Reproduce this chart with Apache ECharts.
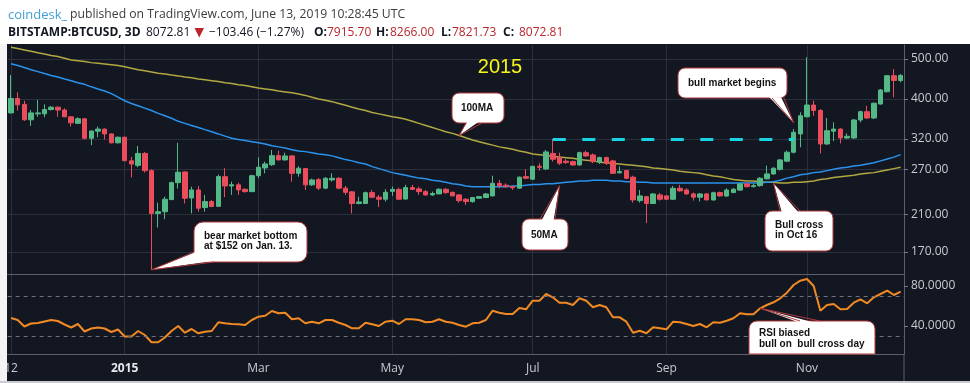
<!DOCTYPE html>
<html><head><meta charset="utf-8">
<script src="https://cdn.jsdelivr.net/npm/echarts@6/dist/echarts.min.js"></script>
<style>html,body{margin:0;padding:0;background:#fff;overflow:hidden}#c{width:970px;height:383px}</style>
</head><body><div id="c"></div>
<script>
// ---------------- DATA (BITSTAMP:BTCUSD, 3D candles) ----------------
const startDate = '2014-11-12';   // first candle
const stepDays = 3;
const opens = [370,401,388,356,368,368,377,382,376,362,349,358,321,334,338,329,313,323,283,276,295,268,211,213,228,250.6,266,230,240.6,218,225.4,219.5,259,246,247.5,241.5,238.3,260.5,272,277,291.4,284.5,291,264,271,247.5,255,243,254.4,256.8,243,238,223,223,237,231,228.4,238.7,241.3,228.6,243.7,242,238.3,234,235.3,241.5,237.4,234,228.4,225.4,229.7,230.6,232.7,249.6,247,245,243,259.2,255.4,274.5,270.5,295,288.5,282.5,281.8,276.6,296.3,292.5,281,288.2,282.9,264.7,268,258.4,226.6,231.7,223,234,232.7,228.4,242.8,240.6,235.3,231,235.3,227.5,237,232.5,237,240.4,248.8,245,246.4,256,263,270,282.5,297,329,362,386.6,375,311,334,338,321.6,321.6,355.6,372.5,359.6,388.8,416.5,455.4,443.5];
const closes = [401,387,356,370,370,377,382,376,362,350,358,321,334.5,338,329,313,323,283.4,278,295,268,211,213,228.4,250.6,265.6,229.7,240.6,217.2,225.4,219.3,259.2,246,247.7,240.6,238.3,260.5,273.1,278.2,291.4,284.5,290.9,264,271.6,247.5,254.4,243,256.8,256.8,243,237.4,223,225,236.9,231,228.4,237.4,241.3,228.4,243.7,241.3,238.3,234,235.8,241.5,237,232.7,226.6,225.4,230.6,231.7,235.2,249.6,246.4,245,243.5,258.4,256.8,274.5,273,297.5,285.6,279.3,280.5,276.6,296.3,290.9,281.8,288.2,279.3,264,266.6,256.8,227.5,232.7,223,235.2,228.4,228.4,242.8,239.3,235.3,231,235.2,227.5,236.9,232.7,240.4,241.5,248.8,245,246.4,256.8,263.1,271.6,284.5,297,332,364.2,386.6,375,311,335,338,321.6,324.7,355.6,372.5,359.6,390.5,420.5,455.4,443.5,456.17];
const highs = [457,415,396,376,398,388,384.5,383.5,379.5,363,361,359,335,343,339,330,324,324,289.5,307.6,297.5,270,224,231.7,252,313,267,245,246,234,227.5,262,271.6,252,250.6,242.5,262,288.8,281.8,300.8,299.7,296.3,292,274.5,272,256.3,257,258.4,264,258.4,246,239,231.7,238.3,240.6,234,241.5,245,243.7,247.5,247.5,245,240.6,238.3,242.8,242.8,238.3,235,229.7,231.1,232.7,236.5,260.5,254.4,249.6,246,259.2,270,275.1,279.3,300.8,320,296.3,285.6,283.4,298,299.7,295,289.8,289.8,284.5,274.5,269,260.5,240.4,232.7,236.5,236.5,233.5,246,247.5,242.8,237,236.5,236.5,238.3,238.3,242.8,243.3,249.7,249.7,248.8,258.4,275.6,273.1,286.1,299.7,338,371.3,505,396,378,359.6,351,339.4,330,357.6,374.5,385,392.5,422.8,457.4,472.6,459.8];
const lows = [369,375,354,344,362,361,375,362,361,343,348,319,309,323,319,312,312,282,258,273,265,154,195,204.3,227,242.4,223,211,213,213,218.5,219,231,234,234,237,237.6,256.8,264,275,284,283.5,252,259,240.4,246,240.4,241.5,252,241.5,234,211,222,222.5,229.7,218.6,225.4,232.7,228,228,240.4,234,233,232.7,235,235.3,232.5,224,221.3,224,229,229.7,232,242.8,243.7,240.6,242,255.4,254.4,268,269,281.8,276.6,278.2,275.5,275.5,289.5,279.3,278.2,276.6,263,264,255.4,224,224,199.8,222.5,226.6,227.5,227.5,238.3,234,226.6,225.4,227,226.6,231.7,231.7,236.5,239.5,244,244,245,255,262,268,281,295,305.3,361,364,295,309.5,316,312,320,320,351,357.6,357.6,387.5,415,403.7,439];
const ma50 = [487,482,477,471,466,461,456,452,447,443,438,434,428,423,418,412,404,396,390,385,380,375,369,364,359,353,349,345,341,337,333,329,325,321,319,317,315,313,311,308,306,304,301,299,298,296,294,293,291,288,285,283,280,278,274,271,268,265,263,261,259,257,256,254,253,251,249,248,246,245,245,245,245,245,245,246,246,247,248,248,249,249,250,251,252,253,253,254,254,254,253,253,252,252,251,251,250,250,250,250,250,250,250,250,250,250,250,250,250,250,250,250,250,251,252,254,257,259,262,263,265,266,268,270,272,273,275,276,278,280,283,286,289,293];
const ma100 = [534,530,526,522,518,514,510,507,502,497,495,493,490,488,486,484,482,479,475,471,468,465,462,460,457,455,452,450,447,445,443,441,438,436,433,431,428,425,423,421,418,416,414,411,408,404,400,397,394,390,386,382,378,375,371,368,365,362,360,357,353,349,345,341,337,333,330,326,322,318,315,312,309,306,304,302,299,297,294,293,292,290,289,288,287,285,284,283,281,280,279,278,277,276,275,274,272,271,270,269,267,266,265,264,262,260,259,257,255,254,253,253,252,251,251,250,250,251,251,252,253,255,256,258,259,260,261,263,264,265,267,269,271,273];
const rsi = [48,46,39.5,42.5,43,44.5,46,45,41.5,38.5,42,34.5,37.5,38.5,37.5,34,36.5,29.5,29.5,35,31,23.7,23.7,28.5,35,40,33.3,37,32.7,34.3,35,43.7,42.7,42,41.7,41,46,49.3,50.3,55,52.7,53.3,46.7,47.7,42.7,44.3,42.7,46,46,43.3,41,37.7,37.7,43.3,41.7,40,44.3,45.3,42,46.7,46.7,46,43.7,44.3,46.7,44.3,43.3,41,39.3,42.7,43.3,46,55.3,53.3,52,52,58,56.7,65.3,65.3,72,68.7,63.3,63.3,61,67.7,65.3,58.7,61,58.7,48.7,48.7,44.3,33.3,35.3,32.7,38.7,37.7,36.7,44.3,43.7,42,40,42,38.7,43.7,43.3,45.3,47.7,52.7,51.7,51.7,57.7,61,63.7,67.7,73.3,81,85.3,87,80,55.3,61,62,56.7,57,63.3,66.7,62.7,68.7,72,75.3,71,74.3];
const tickDates = ['2014-11-12','2015-01-02','2015-03-03','2015-05-02','2015-07-04','2015-09-02','2015-11-04'];
const tickTexts = ['12','2015','Mar','May','Jul','Sep','Nov'];
const priceTicks = [170,210,270,320,400,500];
const rsiTicks = [40,80];
const rsiBands = [70,30];
const lastPrice = 456.17;
const resistance = 320;
const resistanceFrom = 81, resistanceTo = 117;

// ---------------- BUILD ----------------
const categories = [];
const t0 = Date.parse(startDate + 'T00:00:00Z');
for (let i = 0; i < opens.length; i++) {
  categories.push(new Date(t0 + i * stepDays * 864e5).toISOString().slice(0, 10));
}
const candles = opens.map((o, i) => [o, closes[i], lows[i], highs[i]]);
const isTick = (idx, val) => tickDates.indexOf(val) >= 0;
const fmtTick = (val) => {
  const k = tickDates.indexOf(val);
  if (k < 0) return '';
  const t = tickTexts[k];
  return /^\d{4}$/.test(t) ? '{y|' + t + '}' : t;
};
const FONT = "'Open Sans', 'Noto Sans', sans-serif";
const GRID = '#2c303c';
const AXIS = '#5d606b';
const GREEN = '#53b987', RED = '#eb4d5c';

const chart = echarts.init(document.getElementById('c'), null, {renderer: 'canvas', width: 970, height: 383});
const option = {
  backgroundColor: '#131722',
  animation: false,
  grid: [
    {left: 7.66, top: 45, width: 896.3, height: 229},
    {left: 7.66, top: 275, width: 896.3, height: 79}
  ],
  xAxis: [
    {type: 'category', gridIndex: 0, data: categories, boundaryGap: true,
     axisLine: {show: true, lineStyle: {color: AXIS}}, axisTick: {show: false}, axisLabel: {show: false},
     splitLine: {show: true, interval: isTick, alignWithLabel: true, lineStyle: {color: GRID}}},
    {type: 'category', gridIndex: 1, data: categories, boundaryGap: true,
     axisLine: {show: true, lineStyle: {color: AXIS}}, axisTick: {show: false},
     axisLabel: {show: true, interval: isTick, formatter: fmtTick, color: '#c8cad0', fontSize: 12, fontFamily: FONT, margin: 9,
       rich: {y: {fontWeight: 'bold', color: '#e6e8ee', fontSize: 12, fontFamily: FONT}}},
     splitLine: {show: true, interval: isTick, alignWithLabel: true, lineStyle: {color: GRID}}}
  ],
  yAxis: [
    {type: 'log', logBase: 10, gridIndex: 0, position: 'right', min: 150.4, max: 540.7,
     axisLine: {show: true, lineStyle: {color: AXIS}},
     axisTick: {show: true, customValues: priceTicks, length: 4, lineStyle: {color: '#787b86'}},
     axisLabel: {show: true, customValues: priceTicks, formatter: v => Number(v).toFixed(2), color: '#c8cad0', fontSize: 12, fontFamily: FONT, margin: 7},
     splitLine: {show: true, lineStyle: {color: GRID}}},
    {type: 'value', gridIndex: 1, position: 'right', min: 12, max: 91,
     axisLine: {show: true, lineStyle: {color: AXIS}},
     axisTick: {show: true, customValues: rsiTicks, length: 4, lineStyle: {color: '#787b86'}},
     axisLabel: {show: true, customValues: rsiTicks, formatter: v => Number(v).toFixed(4), color: '#c8cad0', fontSize: 12, fontFamily: FONT, margin: 7},
     splitLine: {show: false}}
  ],
  series: [
    {type: 'candlestick', name: 'BTCUSD', xAxisIndex: 0, yAxisIndex: 0, data: candles, barWidth: 5, clip: false,
     itemStyle: {color: GREEN, color0: RED, borderColor: GREEN, borderColor0: RED, borderWidth: 1},
     markLine: {silent: true, symbol: ['none', 'none'], animation: false,
       data: [
         [{coord: [resistanceFrom, resistance], lineStyle: {color: '#19d5e3', width: 3, type: [13, 16.5]}, label: {show: false}},
          {coord: [resistanceTo, resistance]}],
         {yAxis: lastPrice, lineStyle: {opacity: 0}, label: {show: true, position: 'end', distance: 1, formatter: lastPrice.toFixed(2),
           backgroundColor: GREEN, color: '#fff', fontSize: 12, fontFamily: FONT, padding: [3, 8, 2, 6]}}
       ]}},
    {type: 'line', name: '100MA', xAxisIndex: 0, yAxisIndex: 0, data: ma100, symbol: 'none', lineStyle: {color: '#b2a843', width: 1.5}, z: 1},
    {type: 'line', name: '50MA', xAxisIndex: 0, yAxisIndex: 0, data: ma50, symbol: 'none', lineStyle: {color: '#2a93ee', width: 1.5}, z: 1},
    {type: 'line', name: 'RSI', xAxisIndex: 1, yAxisIndex: 1, data: rsi, symbol: 'none', lineStyle: {color: '#f28a24', width: 2},
     markLine: {silent: true, symbol: ['none', 'none'], label: {show: false}, lineStyle: {color: '#6f727d', type: [4, 4], width: 1},
       data: rsiBands.map(v => ({yAxis: v}))}}
  ]
};
chart.setOption(option);

// ---------------- ANNOTATIONS ----------------
const px = (i, v) => chart.convertToPixel({xAxisIndex: 0, yAxisIndex: 0}, [i, v]);
const pxR = (i, v) => chart.convertToPixel({xAxisIndex: 1, yAxisIndex: 1}, [i, v]);
const BORDER = '#b0393b';
const TFONT = 'bold 10px "Liberation Sans", Arial, sans-serif';
function callout(x, y, w, h, tip, b1, b2, lines, tx, ty, lh, r) {
  const cx = x + w / 2, cy = y + h / 2;
  const inward = (p) => { const dx = cx - p[0], dy = cy - p[1], d = Math.hypot(dx, dy); return [p[0] + dx / d * 3, p[1] + dy / d * 3]; };
  const els = [
    {type: 'rect', shape: {x: x, y: y, width: w, height: h, r: r || 7}, style: {fill: '#fff', stroke: BORDER, lineWidth: 1}, z: 100},
    {type: 'polygon', shape: {points: [inward(b1), tip, inward(b2)]}, style: {fill: '#fff'}, z: 101},
    {type: 'polyline', shape: {points: [b1, tip, b2]}, style: {stroke: BORDER, fill: null, lineWidth: 1}, z: 102}
  ];
  lines.forEach((t, k) => els.push({type: 'text', z: 103, style: {text: t, x: tx, y: ty + k * lh, font: TFONT, fill: '#111', textAlign: 'left', verticalAlign: 'middle', textVerticalAlign: 'middle'}}));
  return els;
}
const tipBear = px(21, lows[21]);
const tip100 = px(67, ma100[67]);
const tip50 = px(82, ma50[82] * 0.985);
const tipBull = px(117, 350);
const tipCross = px(114, ma100[114] * 0.995);
const tipRsi = pxR(112, rsi[112]);

const graphics = [
  {type: 'rect', shape: {x: 0, y: 0, width: 970, height: 44}, style: {fill: '#fff'}, z: 50},
  {type: 'rect', shape: {x: 0, y: 44, width: 7, height: 339}, style: {fill: '#f4f4f4'}, z: 50},
  {type: 'line', shape: {x1: 904, y1: 354, x2: 904, y2: 383}, style: {stroke: AXIS, lineWidth: 1}, z: 50},
  {type: 'rect', shape: {x: 0, y: 381, width: 970, height: 2}, style: {fill: '#c9cbd0'}, z: 50},
  // header line 1
  {type: 'text', z: 60, style: {text: 'coindesk_', x: 8, y: 15, font: '13px "Open Sans"', fill: '#3f9fd6', verticalAlign: 'middle', textVerticalAlign: 'middle'}},
  {type: 'text', z: 60, style: {text: 'published on TradingView.com, June 13, 2019 10:28:45 UTC', x: 70, y: 15, font: '12.2px "Open Sans"', fill: '#3b3b3b', verticalAlign: 'middle', textVerticalAlign: 'middle'}},
  // header line 2
  ...[
    ['BITSTAMP:BTCUSD, 3D', 8, 'bold', '#131722'],
    ['8072.81', 146, 'normal', '#131722'],
    ['\u2212103.46 (\u22121.27%)', 209, 'normal', '#131722'],
    ['O:', 314, 'bold', '#131722'], ['7915.70', 327, 'normal', '#b8262b'],
    ['H:', 376, 'bold', '#131722'], ['8266.00', 390, 'normal', '#b8262b'],
    ['L:', 441, 'bold', '#131722'], ['7821.73', 452, 'normal', '#b8262b'],
    ['C:', 503, 'bold', '#131722'], ['8072.81', 519, 'normal', '#b8262b']
  ].map(([t, x, w, c]) => ({type: 'text', z: 60, style: {text: t, x: x, y: 32.5, font: w + ' 12px "Open Sans"', fill: c, verticalAlign: 'middle', textVerticalAlign: 'middle'}})),
  {type: 'polygon', z: 60, shape: {points: [[194.5, 28], [204, 28], [199.25, 37.5]]}, style: {fill: '#b8262b'}},
  // big year label
  {type: 'text', z: 60, style: {text: '2015', x: 500, y: 67, font: '20px "Liberation Sans", Arial', fill: '#f5f51a', textAlign: 'center', verticalAlign: 'middle', textVerticalAlign: 'middle'}},
  ...callout(452, 93, 52, 30, tip100, [466, 123], [482, 123], ['100MA'], 461, 108, 0),
  ...callout(522, 219, 46, 31, tip50, [540, 219], [555, 219], ['50MA'], 531, 235, 0),
  ...callout(194, 222, 113, 40, tipBear, [194, 252], [214, 262], ['bear market bottom', 'at $152 on Jan. 13.'], 204, 236, 10.5, 9),
  ...callout(678, 68, 109, 30, tipBull, [772, 98], [784, 98], ['bull market begins'], 688, 83, 0),
  ...callout(765, 211, 68, 40, tipCross, [780, 211], [800, 211], ['Bull cross', 'in Oct 16'], 775, 225, 10.5),
  ...callout(749, 321, 126, 33, tipRsi, [800, 321], [820, 321], ['RSI biased', 'bull on  bull cross day'], 759, 333.5, 11, [8, 8, 0, 0])
];
chart.setOption({graphic: graphics});
</script>
</body></html>
